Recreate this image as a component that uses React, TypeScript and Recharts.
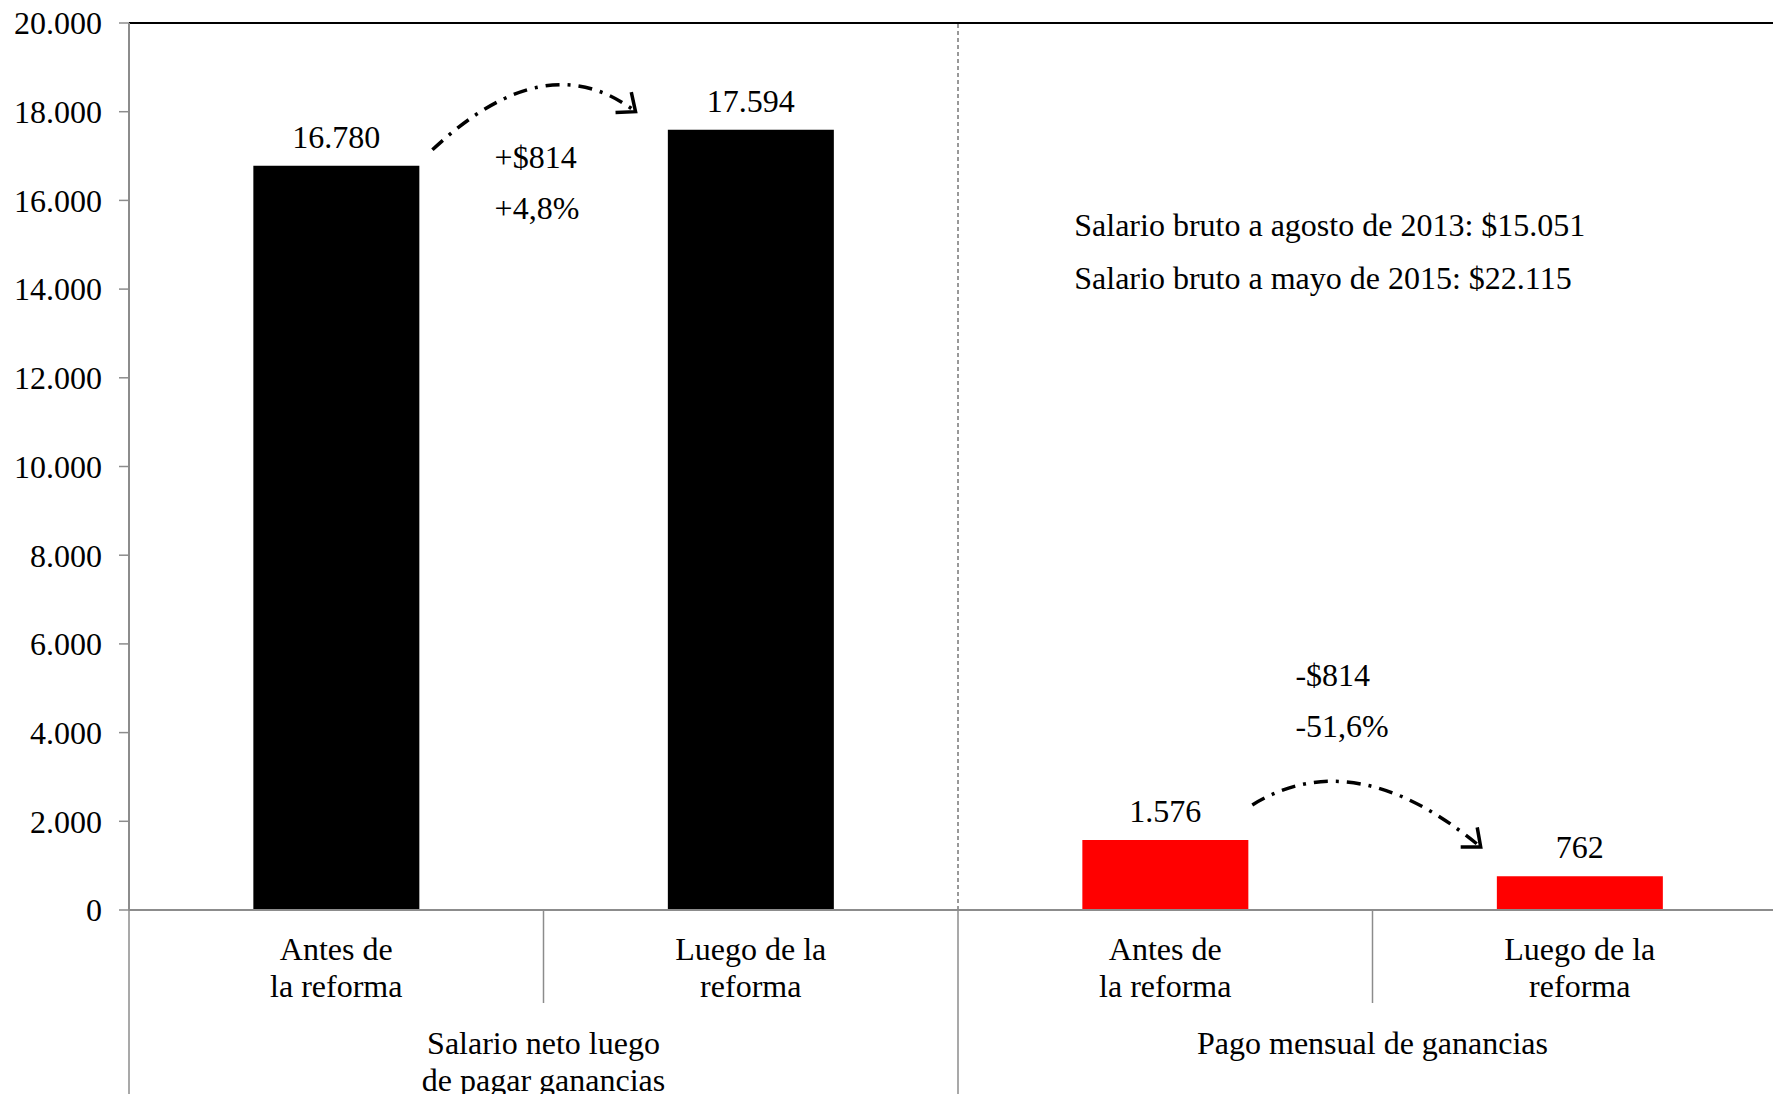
import React from "react";
import { BarChart, Bar, XAxis, YAxis, Cell, LabelList, ReferenceLine, ReferenceDot } from "recharts";

const categories = ["a1", "b1", "a2", "b2"];
const categoryLabels = [
  ["Antes de", "la reforma"],
  ["Luego de la", "reforma"],
  ["Antes de", "la reforma"],
  ["Luego de la", "reforma"],
];
const groupLabels = [["Salario neto luego", "de pagar ganancias"], ["Pago mensual de ganancias"]];
const values = [16780, 17594, 1576, 762];
const barColors = ["#000000", "#000000", "#ff0000", "#ff0000"];
const yTicks = [0, 2000, 4000, 6000, 8000, 10000, 12000, 14000, 16000, 18000, 20000];

const notes = ["Salario bruto a agosto de 2013: $15.051", "Salario bruto a mayo de 2015: $22.115"];
const noteValues = [15200, 14000];

const arrows = [
  { from: "a1", to: "b1", v1: 17140, v2: 18000, text: ["+$814", "+4,8%"], textValues: [16730, 15580] },
  { from: "a2", to: "b2", v1: 2370, v2: 1420, text: ["-$814", "-51,6%"], textValues: [5050, 3900] },
];
// where the arrow starts/ends inside the bands, and how high it bends
const arrowStyle = [
  { s: 0.232, e: -0.278, c: 0.56, lift: 69, tx: 0.382 },
  { s: 0.21, e: -0.239, c: 0.45, lift: 63, tx: 0.314 },
];

const data = categories.map((key, i) => ({ key, value: values[i] }));

const FONT = "'Liberation Serif', 'Times New Roman', serif";
const FS = 32;
const GREY = "#8c8c8c";

const fmt = (v: number) => String(v).replace(/\B(?=(\d{3})+(?!\d))/g, ".");

function CatTick(props: any) {
  const { x, y, payload, index } = props;
  const half = payload && payload.offset ? payload.offset : 207;
  const lines = categoryLabels[index] || [];
  const left = x - half;
  const long = index % 2 === 0;
  const group = index % 2 === 0 ? groupLabels[index / 2] : null;
  return (
    <g>
      <line x1={left} y1={y} x2={left} y2={long ? y + 200 : y + 93} stroke={GREY} strokeWidth={1.5} />
      {lines.map((t, i) => (
        <text key={i} x={x} y={y + 50 + i * 37} textAnchor="middle" fontFamily={FONT} fontSize={FS} fill="#000">
          {t}
        </text>
      ))}
      {group &&
        group.map((t, i) => (
          <text key={"g" + i} x={x + half} y={y + 144 + i * 37} textAnchor="middle" fontFamily={FONT} fontSize={FS} fill="#000">
            {t}
          </text>
        ))}
    </g>
  );
}

function makeArrow(i: number) {
  const a = arrows[i];
  const st = arrowStyle[i];
  return (p: any) => {
    const { x1, y1, x2, y2 } = p;
    if (x1 == null || y1 == null) return null;
    const d = x2 - x1;
    const k = (y1 - y2) / (a.v2 - a.v1);
    const yAt = (v: number) => y1 - (v - a.v1) * k;
    const sx = x1 + st.s * d;
    const ex = x2 + st.e * d;
    const cx = sx + st.c * (ex - sx);
    const cy = Math.min(y1, y2) - st.lift;
    const ang = Math.atan2(y2 - cy, ex - cx);
    const L = 20;
    const h1 = [ex - L * Math.cos(ang - 0.7), y2 - L * Math.sin(ang - 0.7)];
    const h2 = [ex - L * Math.cos(ang + 0.7), y2 - L * Math.sin(ang + 0.7)];
    return (
      <g>
        <path
          d={`M${sx},${y1} Q${cx},${cy} ${ex},${y2}`}
          fill="none"
          stroke="#000"
          strokeWidth={3.5}
          strokeDasharray="14 8 3 8"
        />
        <path d={`M${h1[0]},${h1[1]} L${ex},${y2} L${h2[0]},${h2[1]}`} fill="none" stroke="#000" strokeWidth={3.5} />
        {a.text.map((t, j) => (
          <text key={j} x={x1 + st.tx * d} y={yAt(a.textValues[j])} fontFamily={FONT} fontSize={FS} fill="#000">
            {t}
          </text>
        ))}
      </g>
    );
  };
}

export default function App() {
  return (
    <div style={{ position: "fixed", left: 0, top: 0, width: 1773, height: 1094, overflow: "hidden", background: "#fff" }}>
      <BarChart
        width={1787}
        height={1094}
        data={data}
        margin={{ top: 23, right: 0, bottom: 0, left: 0 }}
        barCategoryGap="30%"
      >
        <XAxis
          dataKey="key"
          interval={0}
          height={184}
          tickLine={false}
          tickSize={0}
          tickMargin={0}
          axisLine={{ stroke: GREY, strokeWidth: 2 }}
          tick={(p: any) => <CatTick {...p} />}
        />
        <YAxis
          width={129}
          domain={[0, 20000]}
          ticks={yTicks}
          interval={0}
          tickSize={10}
          tickMargin={17}
          axisLine={{ stroke: GREY, strokeWidth: 2 }}
          tickLine={{ stroke: GREY, strokeWidth: 1.5 }}
          tickFormatter={fmt}
          tick={{ fill: "#000", fontFamily: FONT, fontSize: FS }}
        />
        <ReferenceLine y={20000} stroke="#000" strokeWidth={2} />
        <ReferenceLine x="b1" position="end" stroke="#333" strokeWidth={1} strokeDasharray="4 3" />
        <Bar dataKey="value" isAnimationActive={false}>
          {data.map((d, i) => (
            <Cell key={d.key} fill={barColors[i]} />
          ))}
          <LabelList
            dataKey="value"
            position="top"
            offset={18}
            formatter={(v: any) => fmt(Number(v))}
            style={{ fontFamily: FONT, fontSize: FS, fill: "#000" }}
          />
        </Bar>
        {arrows.map((a, i) => (
          <ReferenceLine
            key={"arr" + i}
            segment={[
              { x: a.from, y: a.v1 },
              { x: a.to, y: a.v2 },
            ]}
            shape={makeArrow(i)}
          />
        ))}
        {notes.map((n, i) => (
          <ReferenceDot
            key={"n" + i}
            x="a2"
            y={noteValues[i]}
            r={1}
            fill="none"
            stroke="none"
            label={(p: any) => {
              const vb = p.viewBox || {};
              return (
                <text x={vb.x + 1 - 91} y={vb.y + 1} fontFamily={FONT} fontSize={FS} fill="#000">
                  {n}
                </text>
              );
            }}
          />
        ))}
      </BarChart>
    </div>
  );
}
